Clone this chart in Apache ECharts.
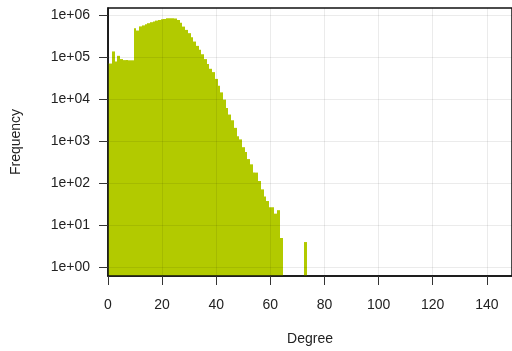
<!DOCTYPE html>
<html>
<head>
<meta charset="utf-8">
<script src="https://cdn.jsdelivr.net/npm/echarts@6/dist/echarts.min.js"></script>
<style>
  html, body { margin: 0; padding: 0; background: #fff; }
  #chart { width: 512px; height: 351px; }
</style>
</head>
<body>
<div id="chart"></div>
<script>
// histogram bins: degree (bin centre) and frequency
const degrees = [
  0, 1, 2, 3, 4, 5, 6, 7, 8, 9,
  10, 11, 12, 13, 14, 15, 16, 17, 18, 19,
  20, 21, 22, 23, 24, 25, 26, 27, 28, 29,
  30, 31, 32, 33, 34, 35, 36, 37, 38, 39,
  40, 41, 42, 43, 44, 45, 46, 47, 48, 49,
  50, 51, 52, 53, 54, 55, 56, 57, 58, 59,
  60, 61, 62, 63, 64, 73
];
const counts = [
  74000, 72000, 140000, 81000, 110000, 92000, 87000, 87000, 86000, 86000,
  502000, 441000, 554000, 585000, 625000, 660000, 697000, 721000, 761000, 790000,
  821000, 835000, 867000, 870000, 865000, 849000, 790000, 680000, 548000, 457000,
  382000, 307000, 241000, 190000, 153000, 120000, 92000, 70000, 54000, 45000,
  31000, 21400, 14800, 9950, 6310, 4380, 3200, 2110, 1340, 1120,
  730, 560, 380, 285, 181, 181, 114, 72, 49, 38,
  27, 27, 19, 23, 5, 4
];
const xTicks = [0, 20, 40, 60, 80, 100, 120, 140];
const yTicks = [1, 10, 100, 1000, 10000, 100000, 1000000];
const yTickLabels = ['1e+00', '1e+01', '1e+02', '1e+03', '1e+04', '1e+05', '1e+06'];

const yMin = 0.62, yMax = 1.52e6;
const barColor = '#b2ca00';
const textColor = '#222';
const font = 'Liberation Sans, Arial, sans-serif';

const chart = echarts.init(document.getElementById('chart'));

chart.setOption({
  animation: false,
  grid: {
    left: 108, right: -2, top: 8, bottom: 74,
    show: true, borderColor: '#111', borderWidth: 1.5
  },
  xAxis: {
    type: 'value',
    min: 0, max: 149.3, interval: 20,
    z: 3,
    name: 'Degree', nameLocation: 'middle', nameGap: 56,
    nameTextStyle: { color: textColor, fontSize: 14, fontFamily: font },
    axisLine: { show: true, onZero: false, lineStyle: { color: '#111', width: 1.5 } },
    axisTick: { show: true, length: 9, customValues: xTicks, lineStyle: { color: '#333' } },
    axisLabel: {
      customValues: xTicks, margin: 22,
      color: textColor, fontSize: 14, fontFamily: font
    },
    splitLine: { show: true, lineStyle: { color: 'rgba(0,0,0,0.08)', width: 1 } }
  },
  yAxis: {
    type: 'log', logBase: 10,
    min: yMin, max: yMax,
    z: 3,
    name: 'Frequency', nameLocation: 'middle', nameGap: 85,
    nameTextStyle: { color: textColor, fontSize: 14, fontFamily: font },
    axisLine: { show: true, lineStyle: { color: '#111', width: 1.5 } },
    axisTick: { show: true, length: 9, customValues: yTicks, lineStyle: { color: '#333' } },
    axisLabel: {
      customValues: yTicks, margin: 18,
      color: textColor, fontSize: 14, fontFamily: font,
      formatter: v => {
        const i = yTicks.findIndex(t => Math.abs(t - v) / t < 1e-6);
        return i >= 0 ? yTickLabels[i] : '';
      }
    },
    splitLine: { show: true, lineStyle: { color: 'rgba(0,0,0,0.08)', width: 1 } }
  },
  series: [{
    type: 'custom',
    clip: true,
    data: degrees.map((d, i) => [d, counts[i]]),
    renderItem: (params, api) => {
      const d = api.value(0);
      const top = api.coord([Math.max(d - 0.5, 0), api.value(1)]);
      const bottom = api.coord([d + 0.5, yMin]);
      // snap edges to whole pixels so neighbouring bars join without seams
      const x0 = Math.round(top[0]), x1 = Math.round(bottom[0]);
      return {
        type: 'rect',
        shape: { x: x0, y: top[1], width: x1 - x0, height: bottom[1] - top[1] },
        style: { fill: barColor }
      };
    }
  }]
});
</script>
</body>
</html>
